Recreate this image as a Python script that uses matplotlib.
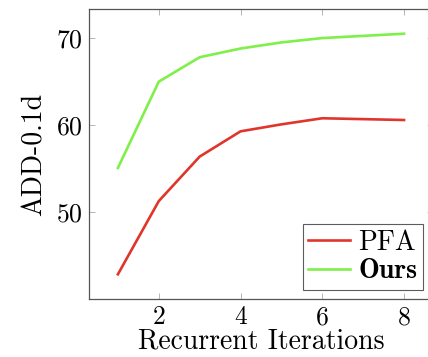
import matplotlib
matplotlib.use("Agg")
import matplotlib.pyplot as plt
from matplotlib.font_manager import FontProperties

iterations = [1, 2, 3, 4, 5, 6, 8]
pfa = [42.9, 51.3, 56.4, 59.3, 60.1, 60.8, 60.6]
ours = [55.1, 65.0, 67.8, 68.8, 69.5, 70.0, 70.5]
xticks = [2, 4, 6, 8]
yticks = [50, 60, 70]

plt.rcParams['font.family'] = ['cmr10', 'DejaVu Serif']
plt.rcParams['axes.formatter.use_mathtext'] = True

fig = plt.figure(figsize=(4.28, 3.57), dpi=100)
ax = fig.add_axes([89.3/428, 1 - 298.7/357, (432.6-89.3)/428, (298.7-9.3)/357])

ax.plot(iterations, pfa, color='#e0352b', lw=1.9, label='PFA')
ax.plot(iterations, ours, color='#7ff04a', lw=1.9, label='Ours')

ax.set_xlim(0.3, 8.7)
ax.set_ylim(40.1, 73.3)
ax.set_xticks(xticks)
ax.set_yticks(yticks)
ax.tick_params(direction='in', length=4, width=0.6, color='#aaaaaa', top=True, right=True,
               labelsize=18.5, pad=5)
for s in ax.spines.values():
    s.set_color('#555555')
    s.set_linewidth(0.9)
ax.spines['right'].set_visible(False)

ax.set_xlabel('Recurrent Iterations', fontsize=20, labelpad=-1)
ax.set_ylabel('ADD-0.1d', fontsize=20, labelpad=6)

leg = ax.legend(loc='lower right', bbox_to_anchor=(423/428, 1 - 290/357), bbox_transform=fig.transFigure,
                fontsize=20, frameon=True, fancybox=False, edgecolor='#333333',
                handlelength=1.5, handletextpad=0.3, borderpad=0.2, labelspacing=0.1,
                borderaxespad=0)
leg.get_frame().set_linewidth(0.8)
leg.get_texts()[1].set_fontproperties(FontProperties(family='cmb10', size=20))

fig.savefig('out.png', dpi=100)
